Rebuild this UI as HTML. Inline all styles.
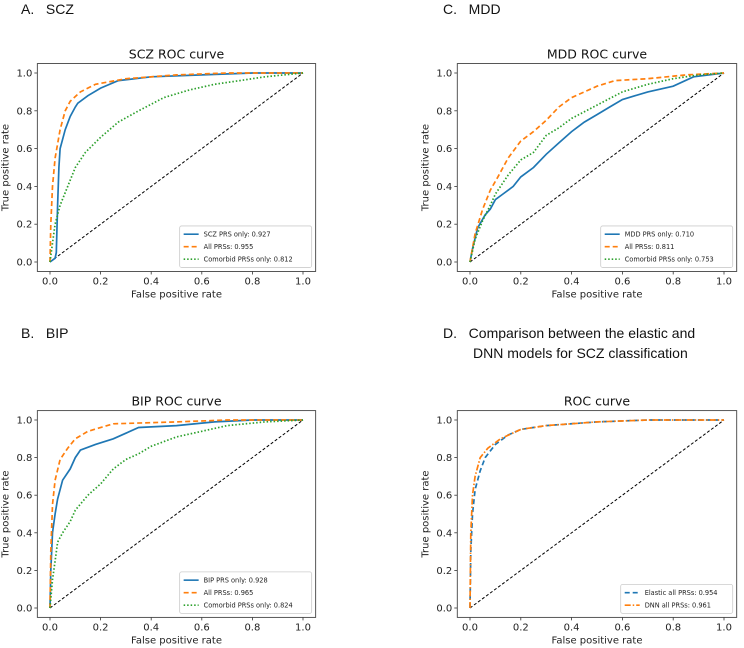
<!DOCTYPE html>
<html><head><meta charset="utf-8"><style>
body{margin:0;background:#fff;width:744px;height:648px;overflow:hidden}
svg{display:block;font-family:"DejaVu Sans","Liberation Sans",sans-serif}
.hd{font-family:"Liberation Sans",sans-serif;font-size:14px;fill:#111}
</style></head><body>
<svg id="fig" width="744" height="648">
<text class="hd" x="21" y="14">A.&#160;&#160;&#160;SCZ</text>
<text class="hd" x="443" y="14">C.&#160;&#160;&#160;MDD</text>
<text class="hd" x="21" y="338">B.&#160;&#160;&#160;BIP</text>
<text class="hd" x="443" y="338">D.&#160;&#160;&#160;Comparison between the elastic and</text>
<text class="hd" x="473" y="358">DNN models for SCZ classification</text>
</svg>
<script>
// Panel A (SCZ)
const aSczX=[0,0.02,0.025,0.03,0.035,0.04,0.06,0.08,0.1,0.11,0.15,0.2,0.27,0.4,0.6,0.8,1];
const aSczY=[0,0.02,0.05,0.3,0.5,0.6,0.7,0.77,0.82,0.84,0.88,0.92,0.96,0.98,0.99,1,1];
const aAllX=[0,0.003,0.01,0.02,0.04,0.06,0.08,0.12,0.18,0.3,0.5,0.7,1];
const aAllY=[0,0.2,0.4,0.55,0.7,0.8,0.85,0.9,0.94,0.97,0.99,1,1];
const aComX=[0,0.01,0.02,0.04,0.07,0.1,0.14,0.2,0.27,0.35,0.45,0.55,0.65,0.75,0.85,1];
const aComY=[0,0.1,0.2,0.3,0.4,0.5,0.58,0.66,0.74,0.8,0.87,0.91,0.94,0.96,0.98,1];
// Panel C (MDD)
const cMddX=[0,0.01,0.03,0.06,0.08,0.1,0.13,0.17,0.2,0.25,0.3,0.35,0.4,0.45,0.5,0.55,0.6,0.65,0.7,0.8,0.88,1];
const cMddY=[0,0.07,0.18,0.25,0.28,0.33,0.36,0.4,0.45,0.5,0.57,0.63,0.69,0.74,0.78,0.82,0.86,0.88,0.9,0.93,0.98,1];
const cAllX=[0,0.02,0.05,0.08,0.11,0.15,0.2,0.25,0.3,0.35,0.4,0.45,0.5,0.57,0.7,0.85,1];
const cAllY=[0,0.15,0.28,0.38,0.45,0.55,0.64,0.69,0.75,0.82,0.87,0.9,0.93,0.96,0.97,0.99,1];
const cComX=[0,0.02,0.05,0.08,0.1,0.15,0.2,0.25,0.3,0.35,0.4,0.5,0.6,0.7,0.8,0.9,1];
const cComY=[0,0.12,0.22,0.3,0.36,0.46,0.54,0.58,0.67,0.71,0.76,0.83,0.9,0.94,0.97,0.99,1];
// Panel B (BIP)
const bBipX=[0,0.003,0.01,0.02,0.03,0.05,0.08,0.1,0.12,0.18,0.25,0.3,0.35,0.5,0.65,0.8,1];
const bBipY=[0,0.2,0.4,0.5,0.58,0.68,0.74,0.8,0.84,0.87,0.9,0.93,0.96,0.97,0.99,1,1];
const bAllX=[0,0.003,0.01,0.02,0.04,0.07,0.1,0.15,0.25,0.5,0.7,1];
const bAllY=[0,0.3,0.55,0.68,0.79,0.85,0.9,0.94,0.98,0.99,1,1];
const bComX=[0,0.01,0.02,0.03,0.05,0.08,0.1,0.15,0.2,0.25,0.3,0.35,0.4,0.5,0.6,0.7,0.85,1];
const bComY=[0,0.15,0.25,0.35,0.4,0.46,0.52,0.6,0.66,0.74,0.79,0.82,0.86,0.91,0.94,0.97,0.99,1];
// Panel D (comparison)
const dElaX=[0,0.003,0.01,0.02,0.04,0.06,0.1,0.15,0.2,0.3,0.5,0.7,1];
const dElaY=[0,0.3,0.5,0.63,0.73,0.8,0.87,0.92,0.95,0.97,0.99,1,1];
const dDnnX=[0,0.003,0.01,0.02,0.04,0.07,0.12,0.2,0.3,0.5,0.7,1];
const dDnnY=[0,0.4,0.6,0.7,0.8,0.85,0.9,0.95,0.97,0.99,1,1];
const ticks=[0,0.2,0.4,0.6,0.8,1.0];
const tickLabels=["0.0","0.2","0.4","0.6","0.8","1.0"];

const NS="http://www.w3.org/2000/svg";
const fig=document.getElementById('fig');
function mk(tag,attrs,parent,text){const e=document.createElementNS(NS,tag);for(const k in attrs)e.setAttribute(k,attrs[k]);if(text!==undefined)e.textContent=text;parent.appendChild(e);return e;}
const BLUE='#1f77b4',ORANGE='#ff7f0e',GREEN='#2ca02c';
function panel(id,x0,x1,y1,y0,title,series,legend){
  const sx=v=>x0+v*(x1-x0), sy=v=>y0-v*(y0-y1);
  const g=mk('g',{},fig);
  
  
  const L=sx(-0.05),R=sx(1.05),T=sy(1.05),B=sy(-0.05);
  const t=mk('text',{x:(L+R)/2,y:T-5,'text-anchor':'middle','font-size':'12.5',fill:'#111'},g,title);
  
  
  ticks.forEach((v,i)=>{
    mk('line',{x1:sx(v),x2:sx(v),y1:B,y2:B+3,stroke:'#333','stroke-width':0.8},g);
    const xl=mk('text',{x:sx(v),y:B+13,'text-anchor':'middle','font-size':'10',fill:'#222'},g,tickLabels[i]);
    
    
    mk('line',{x1:L-3,x2:L,y1:sy(v),y2:sy(v),stroke:'#333','stroke-width':0.8},g);
    const yl=mk('text',{x:L-5,y:sy(v)+3.5,'text-anchor':'end','font-size':'10',fill:'#222'},g,tickLabels[i]);
    
    
  });
  const xt=mk('text',{x:(L+R)/2,y:B+26,'text-anchor':'middle','font-size':'10',fill:'#222'},g,'False positive rate');
  
  
  const cy=(T+B)/2;
  const yt=mk('text',{x:L-29,y:cy,'text-anchor':'middle','font-size':'10',fill:'#222',transform:`rotate(-90 ${L-29} ${cy})`},g,'True positive rate');
  
  
  const diag=mk('line',{x1:sx(0),y1:sy(0),x2:sx(1),y2:sy(1),stroke:'#000','stroke-width':1,'stroke-dasharray':'3,2'},g);
  
  
  series.forEach(s=>{
    const pts=s.x.map((v,i)=>sx(v).toFixed(1)+','+sy(s.y[i]).toFixed(1)).join(' ');
    const p=mk('polyline',{points:pts,fill:'none',stroke:s.c,'stroke-width':1.7,'stroke-dasharray':s.d||'none'},g);
    
    
  });
  mk('rect',{x:L,y:T,width:R-L,height:B-T,fill:'none',stroke:'#444','stroke-width':0.9},g);
  const lh=12.5, lw=legend.w, lx=R-lw-4, ly=B-4-series.length*lh-4;
  const lg=mk('g',{},g);
  
  
  mk('rect',{x:lx,y:ly,width:lw,height:series.length*lh+4,fill:'#fff',stroke:'#ccc','stroke-width':0.8,rx:2},lg);
  series.forEach((s,i)=>{
    const yy=ly+2+lh*i+lh/2;
    mk('line',{x1:lx+4,x2:lx+19,y1:yy,y2:yy,stroke:s.c,'stroke-width':1.6,'stroke-dasharray':s.d||'none'},lg);
    const le=mk('text',{x:lx+24,y:yy+2.5,'font-size':'6.6',fill:'#222'},lg,s.label);
    
    
  });
}
panel('scz',50,303,73,262,'SCZ ROC curve',[
 {x:aSczX,y:aSczY,c:BLUE,n:'scz-prs-line',label:'SCZ PRS only: 0.927'},
 {x:aAllX,y:aAllY,c:ORANGE,d:'5,3',n:'all-prs-line',label:'All PRSs: 0.955'},
 {x:aComX,y:aComY,c:GREEN,d:'1.5,2',n:'comorbid-prs-line',label:'Comorbid PRSs only: 0.812'}],{w:132});
panel('mdd',470,724,73,262,'MDD ROC curve',[
 {x:cMddX,y:cMddY,c:BLUE,n:'mdd-prs-line',label:'MDD PRS only: 0.710'},
 {x:cAllX,y:cAllY,c:ORANGE,d:'5,3',n:'all-prs-line',label:'All PRSs: 0.811'},
 {x:cComX,y:cComY,c:GREEN,d:'1.5,2',n:'comorbid-prs-line',label:'Comorbid PRSs only: 0.753'}],{w:132});
panel('bip',50,303,420,608,'BIP ROC curve',[
 {x:bBipX,y:bBipY,c:BLUE,n:'bip-prs-line',label:'BIP PRS only: 0.928'},
 {x:bAllX,y:bAllY,c:ORANGE,d:'5,3',n:'all-prs-line',label:'All PRSs: 0.965'},
 {x:bComX,y:bComY,c:GREEN,d:'1.5,2',n:'comorbid-prs-line',label:'Comorbid PRSs only: 0.824'}],{w:132});
panel('comparison',470,724,420,608,'ROC curve',[
 {x:dElaX,y:dElaY,c:BLUE,d:'5,3',n:'elastic-line',label:'Elastic all PRSs: 0.954'},
 {x:dDnnX,y:dDnnY,c:ORANGE,d:'6,2,1.5,2',n:'dnn-line',label:'DNN all PRSs: 0.961'}],{w:112});
</script>
</body></html>
